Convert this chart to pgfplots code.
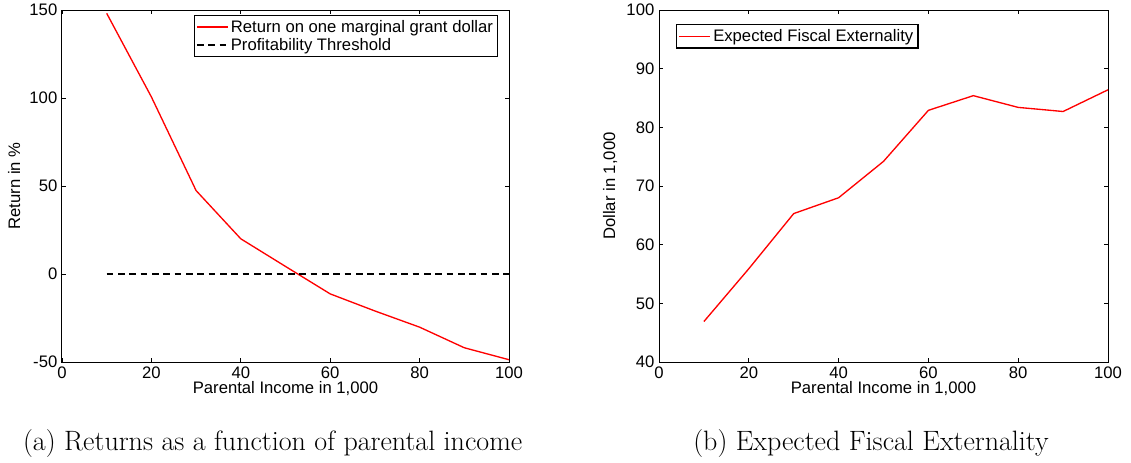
\documentclass[border=0pt]{standalone}
\usepackage{fontspec}
\setmainfont{Liberation Sans}
\newfontfamily\capfont{Latin Modern Roman}
\usepackage{pgfplots}
\pgfplotsset{compat=1.18}

\pgfplotsset{
  matlab/.style={
    scale only axis,
    height=264pt,
    xmin=0, xmax=100,
    xtick={0,20,...,100},
    tick align=inside,
    major tick length=3pt,
    xtick pos=both, ytick pos=both,
    xticklabel pos=lower, yticklabel pos=left,
    axis line style={line width=0.75pt},
    tick style={line width=0.6pt, black},
    font=\fontsize{12.5}{14}\selectfont,
    /pgf/number format/assume math mode=true,
    xlabel={Parental Income in 1,000},
    xlabel style={yshift=5pt},
    legend cell align=left,
    legend style={font=\fontsize{12.5}{14}\selectfont, inner sep=1.5pt, row sep=-1pt,
      line width=0.9pt},
  },
  redleg/.style={legend image code/.code={\draw[red, line width=1pt] (0pt,0pt) -- (23pt,0pt);}},
  dashleg/.style={legend image code/.code={\draw[black, line width=0.9pt, dash pattern=on 5pt off 3.5pt] (0pt,0pt) -- (23pt,0pt);}},
}

\begin{document}
\begin{tikzpicture}
\path[use as bounding box] (-46.5pt,-75pt) rectangle (801.75pt,271.5pt);

\begin{axis}[matlab,
    at={(0pt,0pt)},
    width=335.25pt,
    ymin=-50, ymax=150,
    ytick={-50,0,50,100,150},
    ylabel={Return in \%},
    legend style={at={(1,1)}, anchor=north east, xshift=-8pt, yshift=-3.5pt},
]
\addplot[red, line width=1pt, redleg] coordinates {
  (10,148.1) (20,100.6) (30,47.4) (40,20.0) (50,4.3)
  (60,-11.3) (70,-21.0) (80,-30.2) (90,-41.9) (100,-48.7)
};
\addlegendentry{Return on one marginal grant dollar}
\addplot[black, line width=0.9pt, dash pattern=on 5pt off 3.5pt, dashleg] coordinates {
  (10,0) (100,0)
};
\addlegendentry{Profitability Threshold}
\end{axis}

\begin{axis}[matlab,
    at={(447.75pt,0pt)},
    width=336.75pt,
    ymin=40, ymax=100,
    ytick={40,50,...,100},
    ylabel={Dollar in 1,000},
    legend style={at={(0,1)}, anchor=north west, xshift=12.75pt, yshift=-10.5pt},
]
\addplot[red, line width=1pt, redleg] coordinates {
  (10,46.9) (20,55.9) (30,65.3) (40,68.0) (50,74.2)
  (60,82.9) (70,85.4) (80,83.4) (90,82.7) (100,86.4)
};
\addlegendentry{Expected Fiscal Externality}
\end{axis}

\node[anchor=base, font=\capfont\fontsize{21}{24}\selectfont] at (158pt,-66pt)
  {(a) Returns as a function of parental income};
\node[anchor=base, font=\capfont\fontsize{21}{24}\selectfont] at (606.75pt,-66pt)
  {(b) Expected Fiscal Externality};
\end{tikzpicture}
\end{document}
